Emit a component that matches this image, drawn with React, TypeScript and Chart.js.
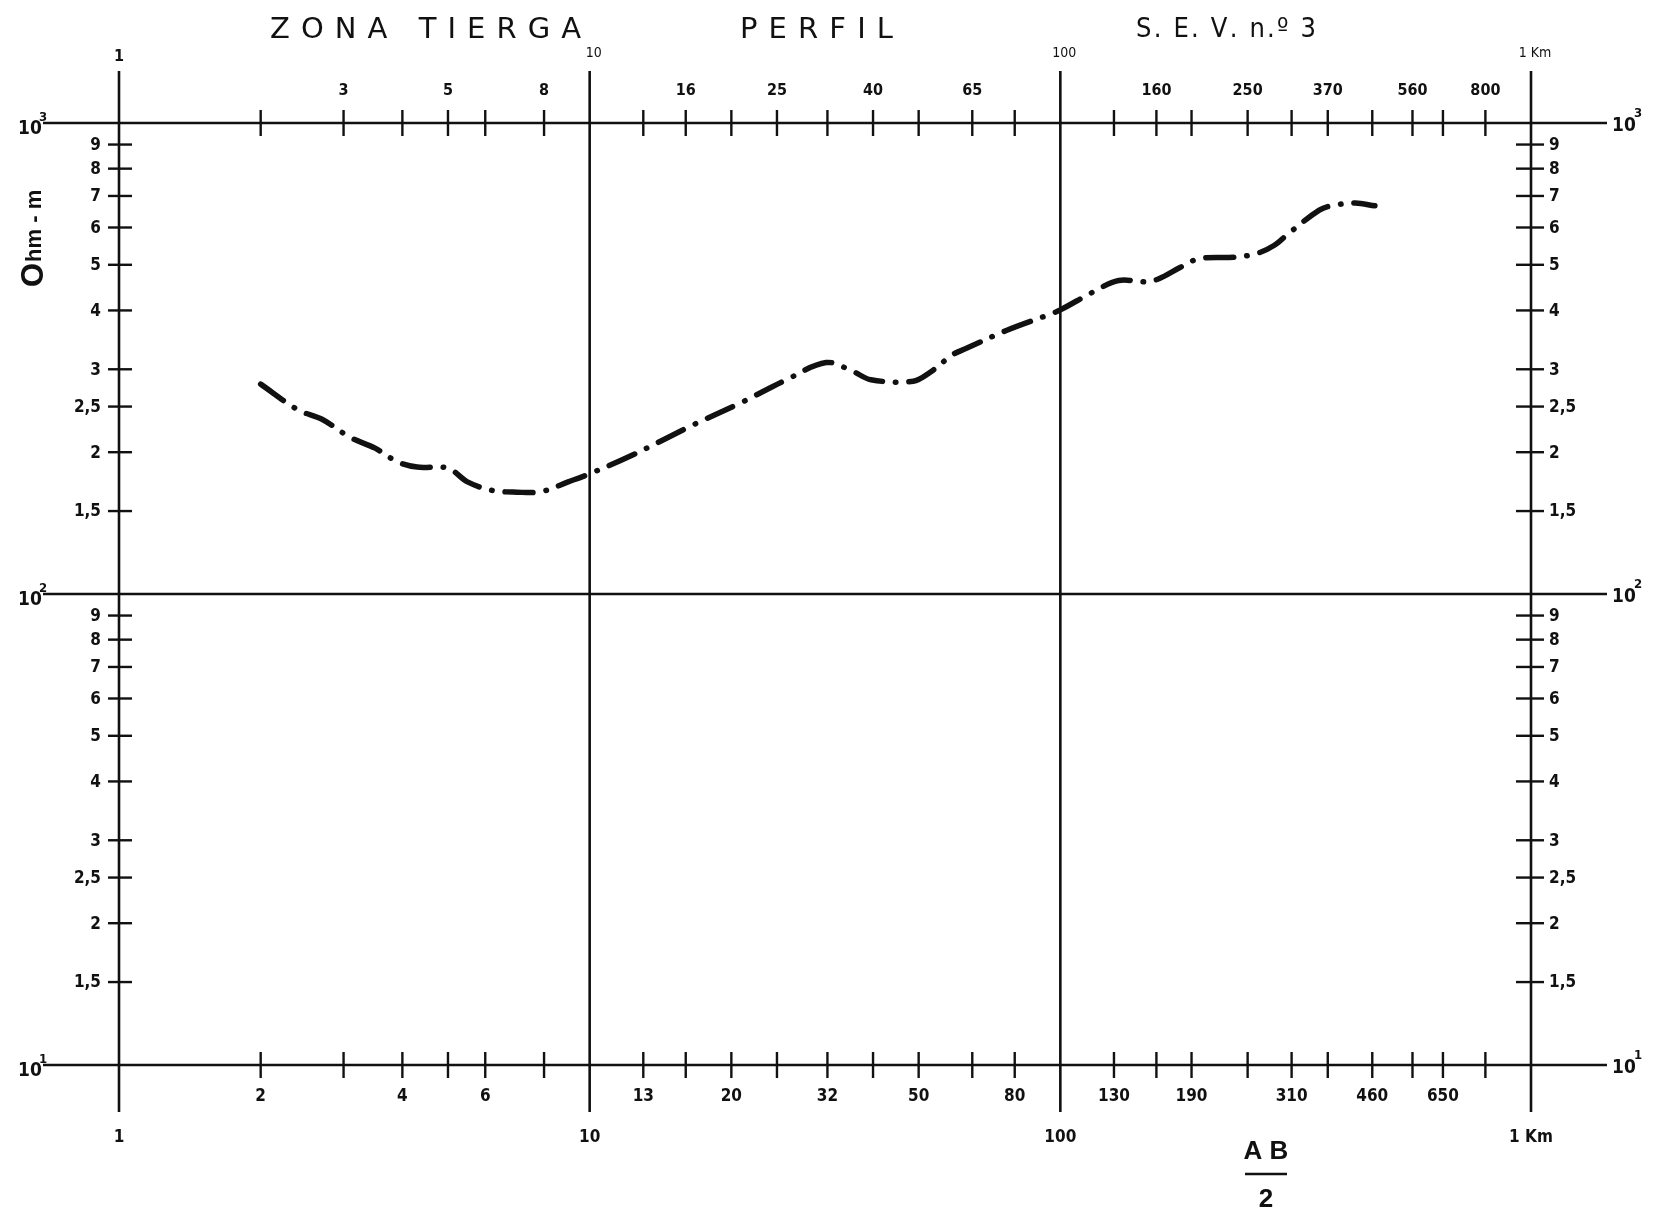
import { useEffect, useRef } from "react";
import { Chart, registerables } from "chart.js";

Chart.register(...registerables);

// ---- data (AB/2 in m, apparent resistivity in Ohm-m) ----
const abHalf = [2.0, 2.4, 2.7, 3.1, 3.5, 3.9, 4.3, 5.0, 5.5, 6.2, 7.0, 7.9, 9.0, 10, 12.3, 16.5, 21, 26, 31.8, 36, 39.6, 48.7, 53, 59, 63, 77, 94, 100, 117, 133, 152, 162, 180, 197, 234, 261, 285, 305, 355, 379, 423, 466];
const resistivity = [279, 246, 235, 215, 204, 191, 186, 185, 173, 166, 164.5, 165, 173, 180, 197, 228, 255, 284, 310, 298, 285, 283, 296, 322, 332, 363, 391, 401, 437, 463, 460, 467, 494, 515, 519, 528, 550, 582, 653, 668, 676, 667];

// ---- axes / ticks ----
const decadesX = [1, 10, 100, 1000];
const decadeLabelsTopX = ["1", "10", "100", "1 Km"];
const decadeLabelsBottomX = ["1", "10", "100", "1 Km"];
const minorTicksX = [2, 3, 4, 5, 6, 8, 13, 16, 20, 25, 32, 40, 50, 65, 80, 130, 160, 190, 250, 310, 370, 460, 560, 650, 800];
const topLabelValuesX = [3, 5, 8, 16, 25, 40, 65, 160, 250, 370, 560, 800];
const topLabelTextsX = ["3", "5", "8", "16", "25", "40", "65", "160", "250", "370", "560", "800"];
const bottomLabelValuesX = [2, 4, 6, 13, 20, 32, 50, 80, 130, 190, 310, 460, 650];
const bottomLabelTextsX = ["2", "4", "6", "13", "20", "32", "50", "80", "130", "190", "310", "460", "650"];

const decadesY = [1000, 100, 10];
const decadeExpY = ["3", "2", "1"];
const minorTicksY = [900, 800, 700, 600, 500, 400, 300, 250, 200, 150, 90, 80, 70, 60, 50, 40, 30, 25, 20, 15];
const minorLabelsY = ["9", "8", "7", "6", "5", "4", "3", "2,5", "2", "1,5", "9", "8", "7", "6", "5", "4", "3", "2,5", "2", "1,5"];

const titleParts = ["ZONA TIERGA", "PERFIL", "S. E. V. n.º 3"];
const yTitleLead = "O";
const yTitleRest = "hm - m";
const xTitleTop = "A B";
const xTitleBottom = "2";

const INK = "#111";
const NUM_FONT = '"DejaVu Sans Condensed", "Liberation Sans Narrow", sans-serif';

function drawSpaced(ctx: CanvasRenderingContext2D, text: string, x0: number, x1: number, y: number) {
  const chars = Array.from(text);
  const widths = chars.map((c) => ctx.measureText(c).width);
  const natural = widths.reduce((a, b) => a + b, 0);
  const gap = chars.length > 1 ? (x1 - x0 - natural) / (chars.length - 1) : 0;
  let x = x0;
  ctx.textAlign = "left";
  chars.forEach((c, i) => {
    ctx.fillText(c, x, y);
    x += widths[i] + gap;
  });
}

const decorPlugin = {
  id: "decor",
  beforeDraw(chart: any) {
    const ctx = chart.ctx as CanvasRenderingContext2D;
    ctx.save();
    ctx.fillStyle = "#fff";
    ctx.fillRect(0, 0, chart.width, chart.height);
    ctx.restore();
  },
  beforeDatasetsDraw(chart: any) {
    const ctx = chart.ctx as CanvasRenderingContext2D;
    const xs = chart.scales.x;
    const ys = chart.scales.y;
    const X = (v: number) => xs.getPixelForValue(v);
    const Y = (v: number) => ys.getPixelForValue(v);
    const yTop = Y(1000);
    const yBot = Y(10);
    const xL = X(1);
    const xR = X(1000);

    ctx.save();
    ctx.strokeStyle = INK;
    ctx.fillStyle = INK;
    ctx.lineCap = "butt";

    // main decade lines
    ctx.lineWidth = 2.6;
    decadesY.forEach((v) => {
      const y = Y(v);
      ctx.beginPath();
      ctx.moveTo(43, y);
      ctx.lineTo(1607, y);
      ctx.stroke();
    });
    decadesX.forEach((v) => {
      const x = X(v);
      ctx.beginPath();
      ctx.moveTo(x, yTop - 52);
      ctx.lineTo(x, yBot + 47);
      ctx.stroke();
    });

    // x tick crosses on top and bottom lines
    ctx.lineWidth = 2.4;
    minorTicksX.forEach((v) => {
      const x = X(v);
      [yTop, yBot].forEach((y) => {
        ctx.beginPath();
        ctx.moveTo(x, y - 13);
        ctx.lineTo(x, y + 13);
        ctx.stroke();
      });
    });

    // y tick crosses on left and right lines
    minorTicksY.forEach((v) => {
      const y = Y(v);
      ctx.beginPath();
      ctx.moveTo(xL - 11, y);
      ctx.lineTo(xL + 13, y);
      ctx.stroke();
      ctx.beginPath();
      ctx.moveTo(xR - 15, y);
      ctx.lineTo(xR + 13, y);
      ctx.stroke();
    });

    // y tick labels
    ctx.font = `bold 17px ${NUM_FONT}`;
    ctx.textBaseline = "middle";
    minorTicksY.forEach((v, i) => {
      const y = Y(v);
      ctx.textAlign = "right";
      ctx.fillText(minorLabelsY[i], xL - 18, y + 1);
      ctx.textAlign = "left";
      ctx.fillText(minorLabelsY[i], xR + 18, y + 1);
    });

    // decade labels on y (10^n) both sides
    decadesY.forEach((v, i) => {
      const y = Y(v);
      ctx.font = `bold 19px ${NUM_FONT}`;
      ctx.textAlign = "left";
      ctx.textBaseline = "middle";
      ctx.fillText("10", 18, y + 6);
      ctx.fillText("10", 1612, y + 3);
      ctx.font = `bold 13px ${NUM_FONT}`;
      ctx.fillText(decadeExpY[i], 39, y - 5);
      ctx.fillText(decadeExpY[i], 1634, y - 9);
    });

    // x tick labels
    ctx.textAlign = "center";
    ctx.textBaseline = "middle";
    ctx.font = `bold 16px ${NUM_FONT}`;
    topLabelValuesX.forEach((v, i) => {
      ctx.fillText(topLabelTextsX[i], X(v), yTop - 32);
    });
    ctx.font = `bold 17px ${NUM_FONT}`;
    bottomLabelValuesX.forEach((v, i) => {
      ctx.fillText(bottomLabelTextsX[i], X(v), yBot + 32);
    });

    // decade labels on x
    decadesX.forEach((v, i) => {
      ctx.font = i === 0 ? `bold 16px ${NUM_FONT}` : `14px ${NUM_FONT}`;
      ctx.fillText(decadeLabelsTopX[i], X(v) + (i === 0 ? 0 : 4), yTop - (i === 0 ? 66 : 70));
    });
    ctx.font = `bold 17px ${NUM_FONT}`;
    decadesX.forEach((v, i) => {
      ctx.fillText(decadeLabelsBottomX[i], X(v), yBot + 73);
    });

    // title
    ctx.font = '29px "DejaVu Sans", sans-serif';
    ctx.textBaseline = "middle";
    drawSpaced(ctx, titleParts[0], 270, 581, 30);
    drawSpaced(ctx, titleParts[1], 740, 893, 30);
    ctx.font = '27px "DejaVu Sans Condensed", "DejaVu Sans", sans-serif';
    drawSpaced(ctx, titleParts[2], 1136, 1316, 30);

    // x title AB/2
    ctx.font = 'bold 26px "Liberation Sans", sans-serif';
    ctx.textAlign = "center";
    ctx.fillText(xTitleTop, 1266, 1152);
    ctx.lineWidth = 2.6;
    ctx.beginPath();
    ctx.moveTo(1245, 1174);
    ctx.lineTo(1287, 1174);
    ctx.stroke();
    ctx.fillText(xTitleBottom, 1266, 1200);

    // y title rotated: big "O" followed by smaller "hm - m"
    ctx.translate(34, 287);
    ctx.rotate(-Math.PI / 2);
    ctx.textAlign = "left";
    ctx.textBaseline = "middle";
    ctx.font = 'bold 31px "Liberation Sans", sans-serif';
    ctx.fillText(yTitleLead, 0, 0);
    const w = ctx.measureText(yTitleLead).width;
    ctx.font = 'bold 22px "Liberation Sans", sans-serif';
    ctx.fillText(yTitleRest, w + 1, 1, 102 - w);

    ctx.restore();
  },
};

export default function App() {
  const canvasRef = useRef<HTMLCanvasElement | null>(null);

  useEffect(() => {
    if (!canvasRef.current) return;
    const points = abHalf.map((x, i) => ({ x, y: resistivity[i] }));
    const chart = new Chart(canvasRef.current, {
      type: "line",
      data: {
        datasets: [
          {
            data: points,
            borderColor: INK,
            borderWidth: 5.5,
            borderDash: [28, 13, 0.5, 13],
            borderCapStyle: "round",
            borderJoinStyle: "round",
            pointRadius: 0,
            tension: 0.35,
            fill: false,
          },
        ],
      },
      options: {
        animation: false,
        responsive: false,
        devicePixelRatio: 1,
        layout: { padding: { left: 119, right: 126, top: 123, bottom: 148 } },
        plugins: { legend: { display: false }, tooltip: { enabled: false }, title: { display: false } },
        scales: {
          x: { type: "logarithmic", min: 1, max: 1000, display: false },
          y: { type: "logarithmic", min: 10, max: 1000, display: false },
        },
      },
      plugins: [decorPlugin],
    } as any);
    return () => chart.destroy();
  }, []);

  return (
    <div style={{ position: "fixed", left: 0, top: 0, width: 1657, height: 1213, background: "#fff" }}>
      <canvas ref={canvasRef} width={1657} height={1213} style={{ display: "block" }} />
    </div>
  );
}
